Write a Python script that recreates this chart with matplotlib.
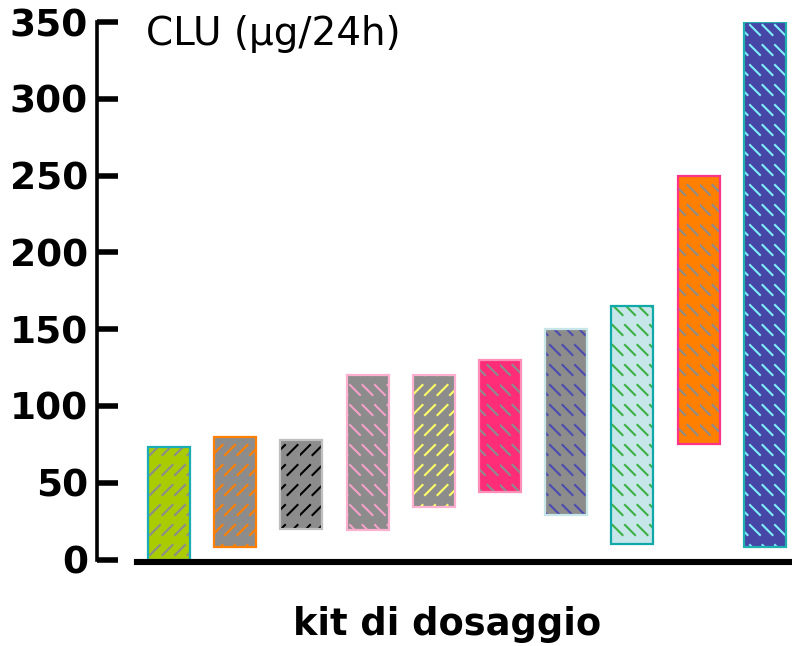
import warnings

import matplotlib
matplotlib.use("Agg")
import matplotlib.pyplot as plt
from matplotlib import hatch as mhatch
from matplotlib.path import Path

warnings.filterwarnings("ignore")

# floating range bars: CLU reference interval per kit
kits = list(range(10))
lows = [0, 8, 20, 19, 34, 44, 29, 10, 75, 8]
highs = [73, 80, 78, 120, 120, 130, 150, 165, 250, 350]
faces = ["#a8cc00", "#8c8c8c", "#8c8c8c", "#8c8c8c", "#8c8c8c",
         "#ff2d78", "#8c8c8c", "#c6e6ea", "#ff7f00", "#4646a6"]
hatch_colors = ["#8c8c8c", "#ff7f00", "#000000", "#f5a0c8", "#ffff66",
                "#8c8c8c", "#4b4bb0", "#3cb043", "#8c8c8c", "#7fefff"]
edges = ["#1aadb8", "#ff7f00", "#bfbfbf", "#ffb0d0", "#ffb0d0",
         "#ff8fb8", "#c8e6e8", "#10a8a8", "#ff3388", "#20b0b0"]
# d = dashed "/" , b = dashed "\"
hatches = ["d", "d", "d", "b", "d", "b", "b", "b", "b", "b"]
y_ticks = [0, 50, 100, 150, 200, 250, 300, 350]


class DashHatch(mhatch.HatchPatternBase):
    """Rows of short diagonal dashes, like the old office-chart fills."""

    rows, cols, size = 5, 8, 0.1

    def __init__(self, hatch, density):
        self.forward = "d" in hatch
        used = "d" in hatch or "b" in hatch
        self.num_vertices = self.rows * self.cols * 2 if used else 0

    def set_vertices_and_codes(self, vertices, codes):
        i = 0
        for r in range(self.rows):
            for c in range(self.cols):
                x0, y0 = c / self.cols, r / self.rows + 0.05
                if self.forward:
                    vertices[i] = (x0, y0)
                    vertices[i + 1] = (x0 + self.size, y0 + self.size)
                else:
                    vertices[i] = (x0, y0 + self.size)
                    vertices[i + 1] = (x0 + self.size, y0)
                codes[i] = Path.MOVETO
                codes[i + 1] = Path.LINETO
                i += 2


mhatch._hatch_types.append(DashHatch)
plt.rcParams["hatch.linewidth"] = 1.5

fig = plt.figure(figsize=(7.92, 6.46), dpi=100)
ax = fig.add_axes([0.1231, 0.1339, 0.874, 0.832])

heights = [h - l for l, h in zip(lows, highs)]
ax.bar(kits, heights, bottom=lows, width=0.635, color=faces,
       edgecolor=hatch_colors, linewidth=0, hatch=hatches, zorder=2)
ax.bar(kits, heights, bottom=lows, width=0.635, facecolor="none",
       edgecolor=edges, linewidth=1.6, zorder=3)

ax.set_xlim(-1.08, 9.376)
ax.set_ylim(0, 350)
ax.set_xticks([])
ax.set_yticks(y_ticks)
ax.yaxis.set_tick_params(direction="in", length=15, width=4, pad=7,
                         labelsize=27)
for lab in ax.get_yticklabels():
    lab.set_fontweight("bold")

for s in ["top", "right"]:
    ax.spines[s].set_visible(False)
ax.spines["left"].set_linewidth(2.6)
ax.spines["bottom"].set_linewidth(4.4)
ax.spines["bottom"].set_position(("outward", 2))
ax.spines["bottom"].set_bounds(-0.483, 9.376)
ax.spines["bottom"].set_zorder(4)

ax.text(-0.34, 342, "CLU (µg/24h)", fontsize=28, va="center", ha="left")
fig.text(0.565, 0.034, "kit di dosaggio", fontsize=26.5, fontweight="bold",
         ha="center", va="center")

fig.savefig("out.png", dpi=100)
